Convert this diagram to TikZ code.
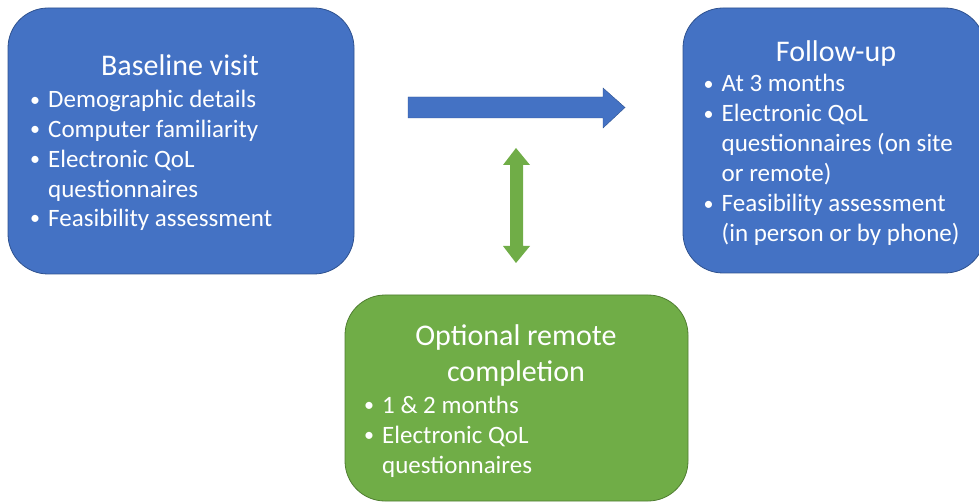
\documentclass[tikz,border=0pt]{standalone}
\usepackage{fontspec}
\setmainfont{Carlito}
\definecolor{pblue}{HTML}{4472C4}
\definecolor{pblueline}{HTML}{2F528F}
\definecolor{pgreen}{HTML}{70AD47}
\definecolor{pgreenline}{HTML}{507E32}
\tikzset{
  box/.style={draw=#1line, fill=#1, line width=0.8pt, rounded corners=40pt},
  ttl/.style={text=white, font=\fontsize{30}{36}\selectfont, anchor=base, inner sep=0pt},
  itm/.style={text=white, font=\fontsize{25}{30}\selectfont, anchor=base west, inner sep=0pt},
  bulnode/.style={text=white, font=\fontsize{20}{20}\selectfont, anchor=base, inner sep=0pt, yshift=1.8pt},
}
\newcommand{\bul}{\textbullet}
\begin{document}
\begin{tikzpicture}[x=1pt,y=-1pt]
\useasboundingbox (0,0) rectangle (979,502);
% boxes
\draw[box=pblue] (8,8) rectangle (354,274);
\draw[box=pblue] (683,8) rectangle (985,273);
\draw[box=pgreen] (345,295) rectangle (688,501);
% baseline text
\node[ttl] (t1) at (180,76) {Baseline visit};
\node[bulnode] (a1) at (35,108) {\bul};
\node[itm] (a1t) at (48,108) {Demographic details};
\node[bulnode] (a2) at (35,137.7) {\bul};
\node[itm] (a2t) at (48,137.7) {Computer familiarity};
\node[bulnode] (a3) at (35,167.4) {\bul};
\node[itm] (a3t) at (48,167.4) {Electronic QoL};
\node[itm] (a4t) at (48,197.1) {questionnaires};
\node[bulnode] (a5) at (35,226.8) {\bul};
\node[itm] (a5t) at (48,226.8) {Feasibility assessment};
% follow-up text
\node[ttl] (t2) at (836,62) {Follow-up};
\node[bulnode] (f1) at (708.5,92) {\bul};
\node[itm] (f1t) at (721.5,92) {At 3 months};
\node[bulnode] (f2) at (708.5,122) {\bul};
\node[itm] (f2t) at (721.5,122) {Electronic QoL};
\node[itm] (f3t) at (721.5,152) {questionnaires (on site};
\node[itm] (f4t) at (721.5,182) {or remote)};
\node[bulnode] (f5) at (708.5,212) {\bul};
\node[itm] (f5t) at (721.5,212) {Feasibility assessment};
\node[itm] (f6t) at (721.5,242) {(in person or by phone)};
% green text
\node[ttl] (t3) at (516,345) {Optional remote};
\node[ttl] (t3b) at (516,381) {completion};
\node[bulnode] (g1) at (369,413) {\bul};
\node[itm] (g1t) at (382,413) {1 \& 2 months};
\node[bulnode] (g2) at (369,443) {\bul};
\node[itm] (g2t) at (382,443) {Electronic QoL};
\node[itm] (g3t) at (382,473) {questionnaires};
% arrows
\fill[pblue, draw=pblueline, line width=0.4pt] (408,97) -- (603,97) -- (603,88) -- (625,107.5) -- (603,128) -- (603,118) -- (408,118) -- cycle;
\fill[pgreen] (516,148) -- (530,165) -- (523,165) -- (523,246) -- (530,246) -- (516,263) -- (503,246) -- (510,246) -- (510,165) -- (503,165) -- cycle;
\end{tikzpicture}
\end{document}
